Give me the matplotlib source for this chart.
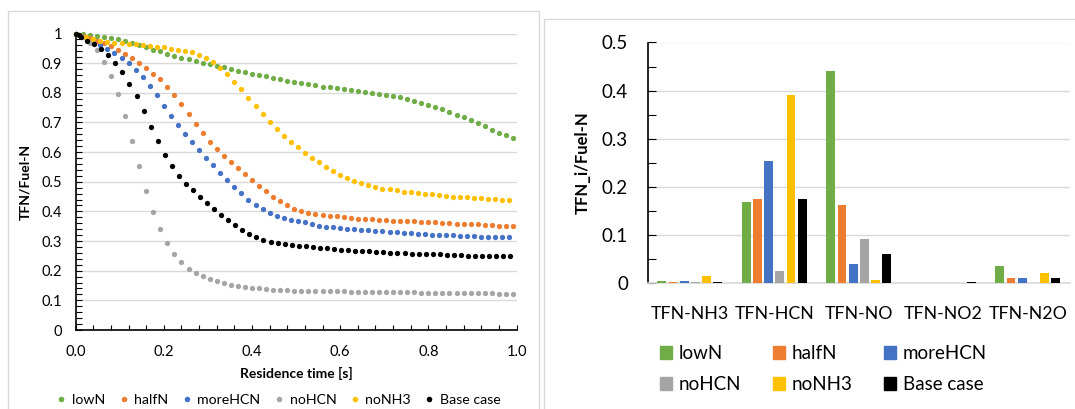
import matplotlib
matplotlib.use("Agg")
from matplotlib import pyplot as plt
from matplotlib.patches import Rectangle, Patch
from matplotlib.lines import Line2D
from matplotlib.ticker import MultipleLocator, FuncFormatter
import numpy as np

plt.rcParams['font.family'] = ['Lato', 'DejaVu Sans']

# --- left chart: TFN/Fuel-N over residence time ---
time_a = [0.000, 0.016, 0.032, 0.048, 0.064, 0.080, 0.096, 0.112, 0.128, 0.144,
          0.160, 0.176, 0.192, 0.208, 0.224, 0.240, 0.256, 0.272, 0.288, 0.304,
          0.320, 0.336, 0.352, 0.368, 0.384, 0.400, 0.416, 0.432, 0.448, 0.464,
          0.480, 0.496, 0.512, 0.528, 0.544, 0.560, 0.576, 0.592, 0.608, 0.624,
          0.640, 0.656, 0.672, 0.688, 0.704, 0.720, 0.736, 0.752, 0.768, 0.784,
          0.800, 0.816, 0.832, 0.848, 0.864, 0.880, 0.896, 0.912, 0.928, 0.944,
          0.960, 0.976, 0.992]

time_b = [0.000, 0.008, 0.024, 0.040, 0.056, 0.072, 0.088, 0.104, 0.120, 0.136,
          0.152, 0.168, 0.184, 0.200, 0.216, 0.232, 0.248, 0.264, 0.280, 0.296,
          0.312, 0.328, 0.344, 0.360, 0.376, 0.392, 0.408, 0.424, 0.440, 0.456,
          0.472, 0.488, 0.504, 0.520, 0.536, 0.552, 0.568, 0.584, 0.600, 0.616,
          0.632, 0.648, 0.664, 0.680, 0.696, 0.712, 0.728, 0.744, 0.760, 0.776,
          0.792, 0.808, 0.824, 0.840, 0.856, 0.872, 0.888, 0.904, 0.920, 0.936,
          0.952, 0.968, 0.984]

time_base = [0.000, 0.007, 0.013, 0.026, 0.042, 0.058, 0.074, 0.090, 0.106, 0.122,
             0.138, 0.154, 0.170, 0.186, 0.202, 0.218, 0.234, 0.250, 0.266, 0.282,
             0.298, 0.314, 0.330, 0.346, 0.362, 0.378, 0.394, 0.410, 0.426, 0.442,
             0.458, 0.474, 0.490, 0.506, 0.522, 0.538, 0.554, 0.570, 0.586, 0.602,
             0.618, 0.634, 0.650, 0.666, 0.682, 0.698, 0.714, 0.730, 0.746, 0.762,
             0.778, 0.794, 0.810, 0.826, 0.842, 0.858, 0.874, 0.890, 0.906, 0.922,
             0.938, 0.954, 0.970, 0.986]

low_n = [1.000, 0.998, 0.996, 0.993, 0.989, 0.985, 0.980, 0.975, 0.968, 0.961,
         0.953, 0.946, 0.940, 0.932, 0.925, 0.918, 0.913, 0.907, 0.902, 0.896,
         0.891, 0.886, 0.881, 0.875, 0.870, 0.865, 0.860, 0.855, 0.850, 0.846,
         0.841, 0.837, 0.833, 0.829, 0.825, 0.821, 0.818, 0.815, 0.812, 0.809,
         0.806, 0.803, 0.800, 0.797, 0.794, 0.790, 0.785, 0.780, 0.774, 0.767,
         0.760, 0.753, 0.745, 0.736, 0.726, 0.717, 0.707, 0.697, 0.687, 0.676,
         0.666, 0.658, 0.649]

half_n = [1.000, 0.992, 0.984, 0.976, 0.967, 0.957, 0.946, 0.932, 0.917, 0.901,
          0.884, 0.865, 0.845, 0.820, 0.792, 0.761, 0.727, 0.695, 0.664, 0.635,
          0.610, 0.587, 0.566, 0.545, 0.526, 0.507, 0.486, 0.468, 0.450, 0.434,
          0.420, 0.409, 0.402, 0.396, 0.392, 0.389, 0.385, 0.383, 0.381, 0.378,
          0.376, 0.375, 0.374, 0.372, 0.370, 0.369, 0.368, 0.367, 0.366, 0.365,
          0.364, 0.363, 0.361, 0.360, 0.359, 0.358, 0.357, 0.356, 0.355, 0.354,
          0.352, 0.351, 0.351]

more_hcn = [1.000, 0.995, 0.985, 0.973, 0.961, 0.948, 0.934, 0.917, 0.899, 0.878,
            0.854, 0.823, 0.791, 0.756, 0.723, 0.690, 0.662, 0.634, 0.607, 0.581,
            0.555, 0.530, 0.506, 0.482, 0.462, 0.440, 0.422, 0.407, 0.393, 0.383,
            0.377, 0.372, 0.367, 0.363, 0.357, 0.352, 0.349, 0.347, 0.343, 0.342,
            0.340, 0.338, 0.336, 0.334, 0.333, 0.331, 0.330, 0.328, 0.327, 0.325,
            0.324, 0.322, 0.321, 0.320, 0.319, 0.318, 0.318, 0.316, 0.315, 0.315,
            0.314, 0.313, 0.313]

no_hcn = [1.000, 0.987, 0.967, 0.943, 0.905, 0.857, 0.795, 0.722, 0.637, 0.552,
          0.470, 0.398, 0.339, 0.292, 0.255, 0.228, 0.207, 0.193, 0.181, 0.171,
          0.164, 0.158, 0.153, 0.149, 0.144, 0.142, 0.140, 0.139, 0.136, 0.135,
          0.134, 0.133, 0.133, 0.132, 0.132, 0.131, 0.131, 0.130, 0.130, 0.129,
          0.129, 0.129, 0.128, 0.128, 0.128, 0.127, 0.127, 0.127, 0.127, 0.126,
          0.126, 0.126, 0.126, 0.125, 0.125, 0.125, 0.125, 0.124, 0.124, 0.124,
          0.123, 0.123, 0.123]

no_nh3 = [1.000, 0.995, 0.988, 0.980, 0.975, 0.971, 0.968, 0.967, 0.966, 0.963,
          0.962, 0.959, 0.956, 0.953, 0.949, 0.946, 0.941, 0.936, 0.929, 0.917,
          0.903, 0.885, 0.863, 0.838, 0.812, 0.784, 0.756, 0.730, 0.703, 0.677,
          0.655, 0.635, 0.616, 0.598, 0.581, 0.565, 0.551, 0.537, 0.523, 0.513,
          0.503, 0.495, 0.489, 0.483, 0.477, 0.474, 0.471, 0.467, 0.464, 0.462,
          0.459, 0.457, 0.455, 0.453, 0.450, 0.448, 0.447, 0.446, 0.444, 0.443,
          0.441, 0.440, 0.439]

base_case = [1.000, 0.994, 0.987, 0.974, 0.965, 0.947, 0.926, 0.900, 0.869, 0.831,
             0.788, 0.739, 0.686, 0.636, 0.591, 0.553, 0.521, 0.494, 0.471, 0.448,
             0.427, 0.408, 0.389, 0.372, 0.354, 0.338, 0.323, 0.313, 0.304, 0.297,
             0.293, 0.289, 0.286, 0.284, 0.282, 0.279, 0.277, 0.275, 0.273, 0.271,
             0.269, 0.268, 0.266, 0.265, 0.264, 0.262, 0.261, 0.260, 0.259, 0.258,
             0.257, 0.256, 0.256, 0.255, 0.253, 0.253, 0.252, 0.251, 0.251, 0.250,
             0.250, 0.249, 0.249, 0.248]

# --- right chart: TFN_i/Fuel-N per species ---
categories = ['TFN-NH3', 'TFN-HCN', 'TFN-NO', 'TFN-NO2', 'TFN-N2O']
low_n_bar = [0.004, 0.168, 0.441, 0.001, 0.036]
half_n_bar = [0.002, 0.175, 0.162, 0.001, 0.012]
more_hcn_bar = [0.004, 0.254, 0.041, 0.001, 0.012]
no_hcn_bar = [0.002, 0.026, 0.092, 0.001, 0.001]
no_nh3_bar = [0.015, 0.391, 0.007, 0.001, 0.021]
base_case_bar = [0.002, 0.175, 0.060, 0.002, 0.010]

names = ['lowN', 'halfN', 'moreHCN', 'noHCN', 'noNH3', 'Base case']
colors = ['#70AD47', '#ED7D31', '#4472C4', '#A5A5A5', '#FFC000', '#000000']
grid_c = '#D9D9D9'

W, H = 1075, 409
fig = plt.figure(figsize=(W / 100, H / 100), dpi=100)

# chart frames
fig.patches.append(Rectangle((8 / W, -0.05), (539 - 8) / W, 1.05 - 11 / H,
                             transform=fig.transFigure, fill=False, ec=grid_c, lw=1))
fig.patches.append(Rectangle((544 / W, -0.05), (1085 - 544) / W, 1.05 - 19 / H,
                             transform=fig.transFigure, fill=False, ec=grid_c, lw=1))

# left chart
ax1 = fig.add_axes([75.7 / W, 1 - 330 / H, (516.5 - 75.7) / W, (330 - 33.5) / H])
series = [(time_a, low_n), (time_a, half_n), (time_b, more_hcn),
          (time_a, no_hcn), (time_b, no_nh3), (time_base, base_case)]
for (t, v), name, c in zip(series, names, colors):
    ax1.plot(t, v, 'o', ms=3.8, mew=0, color=c, label=name, clip_on=False, zorder=3)

ax1.set_xlim(0, 1)
ax1.set_ylim(0, 1)
ax1.xaxis.set_major_locator(MultipleLocator(0.2))
ax1.xaxis.set_minor_locator(MultipleLocator(0.04))
ax1.yaxis.set_major_locator(MultipleLocator(0.1))
ax1.yaxis.set_minor_locator(MultipleLocator(0.02))
ax1.xaxis.set_major_formatter(FuncFormatter(lambda x, p: f"{x:.1f}"))
ax1.yaxis.set_major_formatter(FuncFormatter(lambda y, p: f"{y:.1f}".rstrip('0').rstrip('.') if y > 0.001 else "0"))
ax1.tick_params(axis='both', which='both', direction='in', color='black', width=0.8)
ax1.tick_params(axis='y', which='major', length=4, pad=10, labelsize=10.5)
ax1.tick_params(axis='y', which='minor', length=4)
ax1.tick_params(axis='x', which='both', length=3.5, pad=11, labelsize=10.5)
ax1.grid(axis='y', which='major', color=grid_c, lw=1)
ax1.set_axisbelow(True)
for s in ['top', 'right']:
    ax1.spines[s].set_visible(False)
for s in ['left', 'bottom']:
    ax1.spines[s].set_color('black')
    ax1.spines[s].set_linewidth(1.2)
ax1.set_ylabel('TFN/Fuel-N', fontsize=10, fontweight='bold')
ax1.yaxis.set_label_coords(-0.101, 0.5)
ax1.set_xlabel('Residence time [s]', fontsize=10, fontweight='bold', va='center')
ax1.xaxis.set_label_coords(0.5, -0.147)

handles1 = [Line2D([], [], ls='none', marker='o', ms=4, mew=0, color=c) for c in colors]
fig.legend(handles1, names, ncol=6, loc='center', bbox_to_anchor=(279 / W, 1 - 400 / H),
           frameon=False, fontsize=10.2, handlelength=0.6, handletextpad=0.45,
           columnspacing=1.0, borderpad=0)

# right chart
ax2 = fig.add_axes([647.5 / W, 1 - 283.3 / H, (1070 - 647.5) / W, (283.3 - 42.5) / H])
bar_sets = [low_n_bar, half_n_bar, more_hcn_bar, no_hcn_bar, no_nh3_bar, base_case_bar]
x = np.arange(len(categories))
pitch = 0.1325
for i, (vals, name, c) in enumerate(zip(bar_sets, names, colors)):
    ax2.bar(x + (i - 2.5) * pitch, vals, width=0.104, color=c, label=name, zorder=3)

ax2.set_xlim(-0.5, len(categories) - 0.5)
ax2.set_ylim(0, 0.5)
ax2.set_xticks(x)
ax2.set_xticklabels(categories)
ax2.yaxis.set_major_locator(MultipleLocator(0.1))
ax2.yaxis.set_minor_locator(MultipleLocator(0.05))
ax2.yaxis.set_major_formatter(FuncFormatter(lambda y, p: f"{y:.1f}" if y > 0.001 else "0"))
ax2.tick_params(axis='x', length=0, pad=16, labelsize=12.8)
ax2.tick_params(axis='y', which='both', direction='in', length=6, width=0.8, color='black')
ax2.tick_params(axis='y', which='major', pad=14, labelsize=13.5)
ax2.grid(axis='y', which='major', color=grid_c, lw=1)
ax2.set_axisbelow(True)
for s in ['top', 'right']:
    ax2.spines[s].set_visible(False)
ax2.spines['left'].set_color('black')
ax2.spines['left'].set_linewidth(1.2)
ax2.spines['bottom'].set_color(grid_c)
ax2.spines['bottom'].set_linewidth(1.2)
ax2.set_ylabel('TFN_i/Fuel-N', fontsize=12, fontweight='bold')
ax2.yaxis.set_label_coords(-0.134, 0.5)

# legend fills row by row like the original: reorder for column-major layout
order = [0, 3, 1, 4, 2, 5]
handles2 = [Patch(color=colors[i]) for i in order]
labels2 = [names[i] for i in order]
fig.legend(handles2, labels2, ncol=3, loc='upper left', bbox_to_anchor=(659.5 / W, 1 - 345 / H),
           frameon=False, fontsize=13.5, handlelength=0.65, handleheight=0.65,
           handletextpad=0.35, columnspacing=1.7, labelspacing=0.75, borderpad=0,
           borderaxespad=0)

fig.savefig('out.png', dpi=100)
